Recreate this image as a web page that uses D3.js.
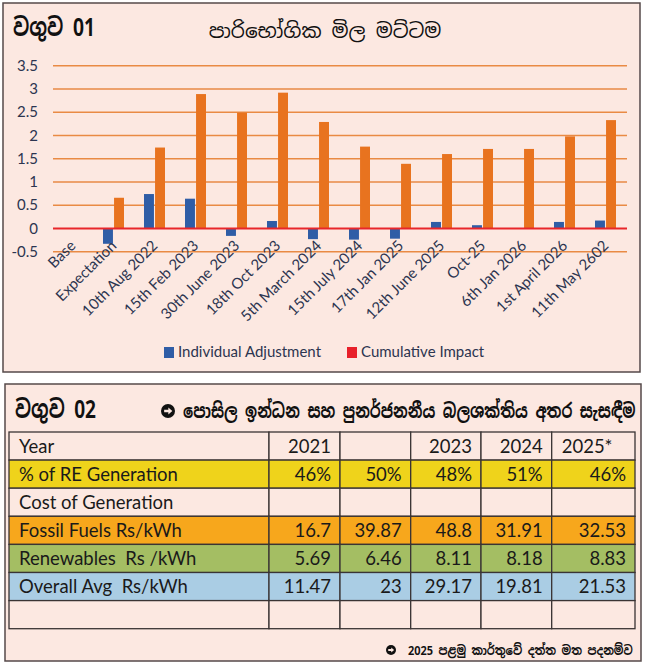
<!doctype html>
<html lang="si">
<head>
<meta charset="utf-8">
<title>වගුව 01 / 02</title>
<style>
  body { margin: 0; background: #ffffff; }
  svg { display: block; }
  .panel { fill: #fce8e1; stroke: #55494a; stroke-width: 1.5; }
  .sinhala { font-family: "Noto Sans Sinhala", "Noto Serif Sinhala", "Iskoola Pota", "Lato", sans-serif; fill: #111; }
  .tick-label, .cat-label, .legend-text { font-family: Lato, "Open Sans", sans-serif; font-size: 15px; fill: #2c3550; }
  .cell-text { font-family: Lato, "Open Sans", sans-serif; font-size: 18.5px; fill: #1a1a1a; white-space: pre; }
  .grid { stroke: #e98a44; stroke-width: 1.5; }
  .zero { stroke: #e8262b; stroke-width: 2; }
  .cell { stroke: #3a3434; stroke-width: 1.3; }
</style>
</head>
<body>
<script src="https://d3js.org/d3.v7.min.js"></script>
<script>
  // ---- chart data (වගුව 01) ----
  const categories = ['Base', 'Expectation', '10th Aug 2022', '15th Feb 2023', '30th June 2023',
    '18th Oct 2023', '5th March 2024', '15th July 2024', '17th Jan 2025', '12th June 2025',
    'Oct-25', '6th Jan 2026', '1st April 2026', '11th May 2602'];
  const individualAdjustment = [0, -0.33, 0.74, 0.64, -0.16, 0.16, -0.23, -0.24, -0.22, 0.14, 0.07, 0, 0.14, 0.17];
  const cumulativeImpact = [0, 0.66, 1.74, 2.89, 2.49, 2.92, 2.29, 1.76, 1.39, 1.6, 1.71, 1.71, 1.98, 2.33];
  const yTicks = [-0.5, 0, 0.5, 1, 1.5, 2, 2.5, 3, 3.5];
  const seriesNames = ['Individual Adjustment', 'Cumulative Impact'];

  // ---- table data (වගුව 02) ----
  const tableYears = ['2021', '', '2023', '2024', '2025*'];
  const reShare = ['46%', '50%', '48%', '51%', '46%'];
  const fossilCost = [16.7, 39.87, 48.8, 31.91, 32.53];
  const renewableCost = [5.69, 6.46, 8.11, 8.18, 8.83];
  const overallCost = [11.47, 23, 29.17, 19.81, 21.53];

  const W = 645, H = 665;
  const svg = d3.select('body').append('svg').attr('width', W).attr('height', H);

  // squeeze a text horizontally so it spans `width` px starting at x
  function fitText(sel, x, yPos, width) {
    const natural = sel.node().getComputedTextLength();
    const sx = Math.min(1.2, width / natural);
    sel.attr('transform', `translate(${x},${yPos}) scale(${sx},1)`);
  }

  // small round arrow bullet
  function bullet(cx, cy, r) {
    const g = svg.append('g').attr('transform', `translate(${cx},${cy})`);
    g.append('circle').attr('r', r).attr('fill', '#111');
    g.append('path')
      .attr('d', `M${-r * 0.55},${-r * 0.18} L${r * 0.05},${-r * 0.18} L${r * 0.05},${-r * 0.5} L${r * 0.62},0 L${r * 0.05},${r * 0.5} L${r * 0.05},${r * 0.18} L${-r * 0.55},${r * 0.18} Z`)
      .attr('fill', '#fce8e1');
  }

  // ---------- top panel ----------
  svg.append('rect').attr('class', 'panel').attr('x', 3).attr('y', 3).attr('width', 637).attr('height', 369);

  svg.append('text').attr('class', 'sinhala')
    .style('font-size', '25px').style('font-weight', 'bold')
    .text('වගුව 01')
    .call(fitText, 13, 36, 82);

  svg.append('text').attr('class', 'sinhala')
    .attr('x', 325).attr('y', 38).attr('text-anchor', 'middle')
    .style('font-size', '20px')
    .text('පාරිභෝගික මිල මට්ටම');

  const x0 = d3.scaleBand().domain(categories).range([53, 627]).paddingInner(0.488).paddingOuter(0.244);
  const x1 = d3.scaleBand().domain(seriesNames).range([-1, x0.bandwidth() - 1]).paddingInner(0.1);
  const y = d3.scaleLinear().domain([-0.5, 3.5]).range([251.7, 65.7]);
  const colors = d3.scaleOrdinal().domain(seriesNames).range(['#2f5da6', '#e8731f']);

  const chart = svg.append('g');

  // gridlines
  chart.selectAll('line.grid').data(yTicks.filter(d => d !== 0)).enter()
    .append('line').attr('class', 'grid')
    .attr('x1', 53).attr('x2', 627)
    .attr('y1', d => y(d)).attr('y2', d => y(d));

  // y tick labels
  chart.selectAll('text.tick-label').data(yTicks).enter()
    .append('text').attr('class', 'tick-label')
    .attr('x', 38).attr('y', d => y(d)).attr('dy', '0.35em')
    .attr('text-anchor', 'end')
    .text(d => String(d));

  // bars
  const rows = categories.map((c, i) => ({
    cat: c,
    values: [
      { key: seriesNames[0], value: individualAdjustment[i] },
      { key: seriesNames[1], value: cumulativeImpact[i] }
    ]
  }));

  const groups = chart.selectAll('g.cat').data(rows).enter()
    .append('g').attr('class', 'cat')
    .attr('transform', d => `translate(${x0(d.cat)},0)`);

  groups.selectAll('rect').data(d => d.values.filter(v => v.value !== 0)).enter()
    .append('rect')
    .attr('x', d => x1(d.key))
    .attr('width', x1.bandwidth())
    .attr('y', d => y(Math.max(0, d.value)))
    .attr('height', d => Math.abs(y(d.value) - y(0)))
    .attr('fill', d => colors(d.key));

  // zero line
  chart.append('line').attr('class', 'zero')
    .attr('x1', 53).attr('x2', 627)
    .attr('y1', y(0)).attr('y2', y(0));

  // category labels
  chart.selectAll('text.cat-label').data(categories).enter()
    .append('text').attr('class', 'cat-label')
    .attr('text-anchor', 'end')
    .attr('transform', d => `translate(${x0(d) + x0.bandwidth() / 2 + 3},${y(-0.5) - 5}) rotate(-45)`)
    .text(d => d);

  // legend
  const legendItems = [
    { name: seriesNames[0], color: '#2f5da6', x: 164 },
    { name: seriesNames[1], color: '#e8202a', x: 347 }
  ];
  const legend = svg.append('g').selectAll('g').data(legendItems).enter()
    .append('g').attr('transform', d => `translate(${d.x},352)`);
  legend.append('rect').attr('x', 0).attr('y', -5).attr('width', 10).attr('height', 11).attr('fill', d => d.color);
  legend.append('text').attr('class', 'legend-text').attr('x', 14).attr('dy', '0.35em').text(d => d.name);

  // ---------- bottom panel ----------
  svg.append('rect').attr('class', 'panel').attr('x', 5).attr('y', 384).attr('width', 636).attr('height', 277);

  svg.append('text').attr('class', 'sinhala')
    .style('font-size', '25px').style('font-weight', 'bold')
    .text('වගුව 02')
    .call(fitText, 15, 418, 81);

  bullet(168, 411, 7);

  svg.append('text').attr('class', 'sinhala')
    .style('font-size', '20px').style('font-weight', 'bold')
    .text('පොසිල ඉන්ධන සහ පුනර්ජනනීය බලශක්තිය අතර සැසඳීම')
    .call(fitText, 183, 418, 453);

  const colEdges = [9, 269, 340, 410.7, 481, 551.7, 635];
  const rowTop = 432, rowH = 28.1;

  const tableRows = [
    { label: 'Year', cells: tableYears, fill: '#fce8e1', header: true },
    { label: '% of RE Generation', cells: reShare, fill: '#efd31b' },
    { label: 'Cost of Generation', cells: ['', '', '', '', ''], fill: '#fce8e1' },
    { label: 'Fossil Fuels Rs/kWh', cells: fossilCost.map(String), fill: '#f7a71c' },
    { label: 'Renewables  Rs /kWh', cells: renewableCost.map(String), fill: '#a4be63' },
    { label: 'Overall Avg  Rs/kWh', cells: overallCost.map(String), fill: '#aacde4' },
    { label: '', cells: ['', '', '', '', ''], fill: '#fce8e1' }
  ];

  const table = svg.append('g');
  const tr = table.selectAll('g.row').data(tableRows).enter()
    .append('g').attr('class', 'row')
    .attr('transform', (d, i) => `translate(0,${rowTop + i * rowH})`);

  tr.each(function (row) {
    const g = d3.select(this);
    const cells = [row.label].concat(row.cells);
    cells.forEach((c, j) => {
      const x = colEdges[j], w = colEdges[j + 1] - colEdges[j];
      g.append('rect').attr('class', 'cell')
        .attr('x', x).attr('y', 0).attr('width', w).attr('height', rowH)
        .attr('fill', row.fill);
      if (c === '') return;
      const leftAlign = j === 0 || (row.header && c === '2025*');
      g.append('text').attr('class', 'cell-text')
        .attr('x', leftAlign ? x + 10 : x + w - 9)
        .attr('y', rowH / 2).attr('dy', '0.36em')
        .attr('text-anchor', leftAlign ? 'start' : 'end')
        .text(c);
    });
  });

  bullet(391, 650, 5);

  svg.append('text').attr('class', 'sinhala')
    .style('font-size', '13px').style('font-weight', 'bold')
    .text('2025 පළමු කාර්තුවේ දත්ත මත පදනම්ව')
    .call(fitText, 408, 655, 225);
</script>
</body>
</html>
